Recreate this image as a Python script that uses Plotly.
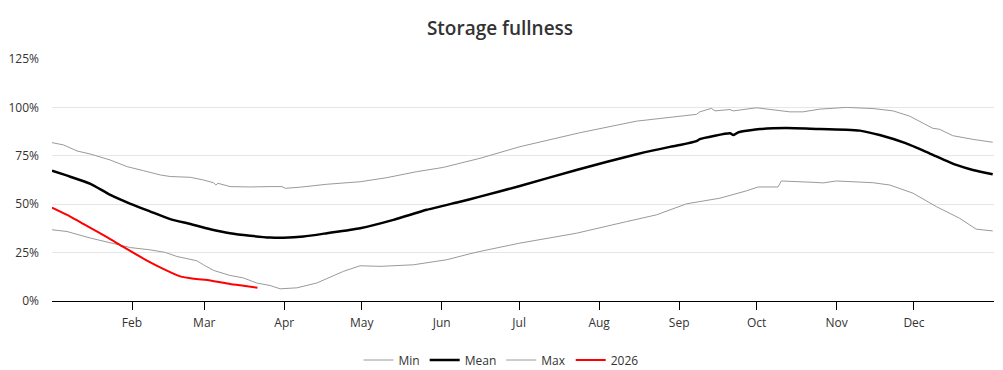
import pandas as pd
import plotly.graph_objects as go

# ---- data (x = day of year offset from 1 Jan, y = storage fullness %) ----
max_days = [0, 4.5, 9.7, 12.3, 14.9, 22.6, 29.1, 35.5, 42, 45.8, 53.6, 58.7, 62.6, 63.5, 64.3, 69, 76.8,
            84.5, 89.1, 90.4, 96.2, 106.5, 119.4, 129.7, 141.3, 151.6, 162, 165.8, 181.3, 204.5, 226.5,
            243.3, 249.7, 251, 255.5, 256.9, 262.7, 264, 273, 285.9, 291, 297.5, 307.8, 318.1, 325.9,
            332.3, 341.3, 343.9, 349, 356.8, 364.5]
max_vals = [81.8, 80.6, 77.5, 76.8, 75.9, 72.8, 69.4, 67.3, 65.1, 64.3, 63.9, 62.5, 61.1, 59.9, 60.8, 59.1, 58.9,
            59.1, 59.1, 58.2, 58.8, 60.3, 61.6, 63.7, 66.8, 69.0, 72.3, 73.7, 79.7, 86.9, 92.9,
            95.5, 96.4, 97.7, 99.5, 98.2, 98.9, 98.2, 99.8, 97.7, 97.7, 99.1, 100.0, 99.4, 98.2,
            95.5, 89.2, 88.7, 85.4, 83.5, 82.0]

mean_days = [0, 7.1, 14.9, 22.6, 30.4, 38.1, 45.8, 53.6, 61.3, 69, 76.8, 84.5, 89.7, 97.5, 106.5, 119.4,
             132.3, 145.2, 158.1, 165.8, 181.3, 203.2, 226.5, 239.4, 243.3, 249.7, 251, 262.7, 264, 265.9,
             274.3, 284.6, 297.5, 307.8, 313, 320.7, 331, 340, 350.4, 356.8, 364.5]
mean_vals = [67.3, 64.2, 60.5, 54.8, 50.2, 46.2, 42.3, 39.8, 37.1, 35.0, 33.7, 32.8, 32.7, 33.3, 35.0, 37.6,
             41.9, 47.1, 51.3, 53.9, 59.4, 67.7, 75.8, 79.6, 80.6, 82.6, 83.6, 86.6, 85.7, 87.1,
             88.8, 89.3, 88.8, 88.5, 88.0, 85.7, 81.4, 76.3, 70.3, 67.7, 65.5]

min_days = [0, 5.8, 14.9, 22.6, 30.4, 38.1, 43.9, 48.4, 56.1, 58.7, 62.6, 69, 74.2, 79.3, 84.5, 88.4, 94.9,
            102.6, 112.9, 119.4, 127.1, 140, 152.9, 162, 165.8, 181.3, 203.2, 222.6, 234.2, 245.9, 258.8,
            269.1, 273.6, 281.3, 282.6, 294.9, 298.8, 303.9, 309.1, 318.1, 324.6, 333.6, 342.6, 351.6,
            358.1, 364.5]
min_vals = [36.8, 35.9, 32.5, 29.9, 27.6, 26.4, 25.1, 23.0, 20.8, 18.7, 15.8, 13.2, 11.9, 9.3, 8.0, 6.3, 6.8,
            9.3, 15.3, 18.2, 17.9, 18.7, 21.3, 24.4, 25.6, 29.9, 35.0, 41.0, 44.5, 50.2, 53.1,
            56.9, 58.9, 58.9, 62.0, 61.3, 61.0, 62.0, 61.7, 61.1, 59.9, 55.7, 48.8, 42.8,
            37.1, 36.2]

y2026_days = [0, 7.1, 12.3, 21.3, 27.8, 36.8, 43.3, 49.7, 54.9, 61.3, 69, 74.2, 79.6]
y2026_vals = [48.2, 43.6, 39.7, 33.0, 27.8, 20.9, 16.5, 12.7, 11.5, 10.6, 8.8, 7.9, 6.9]

tick_vals = ["2026-02-01", "2026-03-01", "2026-04-01", "2026-05-01", "2026-06-01", "2026-07-01",
             "2026-08-01", "2026-09-01", "2026-10-01", "2026-11-01", "2026-12-01"]
tick_text = ["Feb", "Mar", "Apr", "May", "Jun", "Jul", "Aug", "Sep", "Oct", "Nov", "Dec"]
y_ticks = [0, 25, 50, 75, 100, 125]
y_labels = ["0%", "25%", "50%", "75%", "100%", "125%"]

START = pd.Timestamp("2026-01-01")


def to_dates(days):
    return [START + pd.Timedelta(days=d) for d in days]


FONT = "Open Sans, Noto Sans, sans-serif"
# the page body has an 8px default margin, so the figure is sized to fit the window after it
W, H = 987, 362

fig = go.Figure()
fig.add_trace(go.Scatter(x=to_dates(min_days), y=min_vals, name="Min", mode="lines",
                         line=dict(color="#9a9a9a", width=1)))
fig.add_trace(go.Scatter(x=to_dates(mean_days), y=mean_vals, name="Mean", mode="lines",
                         line=dict(color="#000000", width=2.5, shape="spline", smoothing=0.5)))
fig.add_trace(go.Scatter(x=to_dates(max_days), y=max_vals, name="Max", mode="lines",
                         line=dict(color="#9a9a9a", width=1)))
fig.add_trace(go.Scatter(x=to_dates(y2026_days), y=y2026_vals, name="2026", mode="lines",
                         line=dict(color="#ff0000", width=2, shape="spline", smoothing=0.5)))

fig.update_layout(
    width=W, height=H,
    margin=dict(l=44, r=1, t=51, b=69, autoexpand=False),
    paper_bgcolor="white", plot_bgcolor="white",
    font=dict(family=FONT, size=12, color="#333333"),
    title=dict(text="Storage fullness", x=(500 - 8) / W, xanchor="center",
               xref="container", yref="container", y=1 - 20 / H, yanchor="middle",
               font=dict(family=FONT, size=19, color="#333333", weight=600)),
    showlegend=True,
    legend=dict(orientation="h", x=(501 - 8) / W, xanchor="center", xref="container",
                yref="container", y=10 / H, yanchor="middle",
                font=dict(size=12, color="#333333"), itemwidth=30),
    xaxis=dict(type="date", range=["2026-01-01", "2027-01-01"], automargin=False,
               tickvals=tick_vals, ticktext=tick_text,
               showgrid=False, showline=True, linecolor="#000000", linewidth=1,
               ticks="outside", ticklen=8, tickcolor="#000000", zeroline=False,
               ticklabelstandoff=3,
               tickfont=dict(size=12, color="#333333")),
    yaxis=dict(range=[0, 125], tickvals=y_ticks, ticktext=y_labels, automargin=False,
               showgrid=True, gridcolor="#e6e6e6", gridwidth=1, zeroline=False,
               showline=False, ticks="", ticklabelstandoff=12,
               tickfont=dict(size=12, color="#333333")),
)

fig.write_html("out.html")
